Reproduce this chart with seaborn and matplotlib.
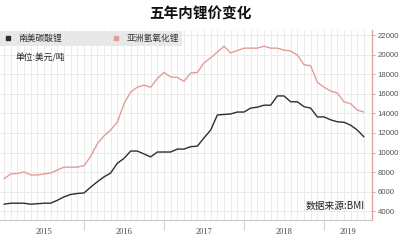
import numpy as np
import pandas as pd
import matplotlib
matplotlib.use("Agg")
import matplotlib.pyplot as plt
from matplotlib.lines import Line2D
import seaborn as sns

# ---- data (monthly, Jan 2015 .. Jul 2019), USD/ton ----
months = list(range(55))
south_america_carbonate = [
    4700, 4800, 4800, 4800, 4700, 4750, 4800, 4800, 5100, 5450,
    5700, 5800, 5850, 6450, 7000, 7500, 7900, 8900, 9400, 10150,
    10150, 9850, 9550, 10050, 10050, 10050, 10350, 10350, 10600, 10650,
    11500, 12300, 13850, 13900, 13950, 14150, 14150, 14550, 14650, 14850,
    14850, 15800, 15800, 15200, 15200, 14700, 14550, 13650, 13650, 13350,
    13150, 13100, 12800, 12300, 11600]
asia_hydroxide = [
    7300, 7800, 7850, 8000, 7700, 7700, 7800, 7900, 8200, 8500,
    8500, 8500, 8650, 9600, 10900, 11700, 12300, 13100, 15000, 16200,
    16700, 16900, 16700, 17600, 18200, 17750, 17700, 17300, 18150, 18200,
    19200, 19700, 20300, 20900, 20200, 20450, 20700, 20700, 20700, 20900,
    20700, 20700, 20500, 20400, 20000, 19000, 18900, 17200, 16700, 16300,
    16100, 15200, 15000, 14350, 14150]
series_names = ["南美碳酸锂", "亚洲氢氧化锂"]
years = ["2015", "2016", "2017", "2018", "2019"]
year_starts = [12, 24, 36, 48]
y_ticks = list(range(4000, 22001, 2000))

df = pd.DataFrame({
    "month": months * 2,
    "price": south_america_carbonate + asia_hydroxide,
    "series": [series_names[0]] * len(months) + [series_names[1]] * len(months),
})

sns.set_style("white")
plt.rcParams["font.family"] = ["Noto Sans CJK SC", "DejaVu Sans"]

colors = {series_names[0]: "#2e2e2e", series_names[1]: "#e29c9a"}

fig = plt.figure(figsize=(4, 2.42), dpi=100)
W, H = 400, 242
ax = fig.add_axes([0 / W, 1 - 220 / H, 372 / W, 190 / H])

sns.lineplot(data=df, x="month", y="price", hue="series", palette=colors,
             linewidth=1.0, legend=False, ax=ax)

ax.set_xlim(-0.6, 55.2)
ax.set_ylim(3080, 22560)

# y axis on the right
ax.yaxis.tick_right()
ax.set_yticks(y_ticks)
ax.set_yticklabels([str(v) for v in y_ticks], fontsize=5.6, color="#555555",
                   family=["Liberation Sans"])
ax.tick_params(axis="y", which="major", length=2.5, width=0.8, color="#e3a3a3", pad=1.5)
ax.set_xlabel("")
ax.set_ylabel("")

# monthly vertical grid
ax.set_xticks(months)
ax.set_xticklabels([])
ax.tick_params(axis="x", which="major", length=0)
ax.grid(True, which="major", color="#ebebeb", linewidth=0.7)
ax.set_axisbelow(True)

for s in ["left", "top"]:
    ax.spines[s].set_visible(False)
ax.spines["right"].set_color("#e3a3a3")
ax.spines["right"].set_linewidth(1.0)
ax.spines["bottom"].set_color("#c8c8c8")
ax.spines["bottom"].set_linewidth(0.8)

# year separators and labels
sec = ax.secondary_xaxis("bottom")
sec.set_xticks(year_starts)
sec.set_xticklabels([])
sec.tick_params(axis="x", which="major", length=7, width=0.8, color="#d2d2d2", pad=0)
year_mid = [6, 18, 30, 42, 51.6]
sec.set_xticks(year_mid, minor=True)
sec.set_xticklabels(years, minor=True, fontsize=6, color="#444444",
                    family=["Liberation Serif"])
sec.tick_params(axis="x", which="minor", length=0, pad=6)
sec.spines["bottom"].set_visible(False)

# legend band
handles = [Line2D([], [], marker="s", linestyle="none", markersize=3.5,
                  color=colors[n]) for n in series_names]
leg = ax.legend(handles, series_names, loc="upper left", bbox_to_anchor=(0.0, 0.995),
                ncol=2, frameon=True, fancybox=False, facecolor="#e8e8e8",
                edgecolor="none", fontsize=6.3, borderaxespad=0, columnspacing=5.5,
                handletextpad=0.6, borderpad=0.35, handlelength=1.2)
leg.get_frame().set_alpha(1)
for t in leg.get_texts():
    t.set_color("#333333")

fig.text(0.5, 1 - 14 / H, "五年内锂价变化", ha="center", va="center",
         fontsize=10.5, fontweight="bold", color="#111111")
fig.text(15 / W, 1 - 58 / H, "单位:美元/吨", ha="left", va="center",
         fontsize=6.3, color="#222222")
fig.text(365 / W, 1 - 206 / H, "数据来源:BMI", ha="right", va="center",
         fontsize=7, color="#222222")

fig.savefig("out.png", dpi=100, facecolor="white")
